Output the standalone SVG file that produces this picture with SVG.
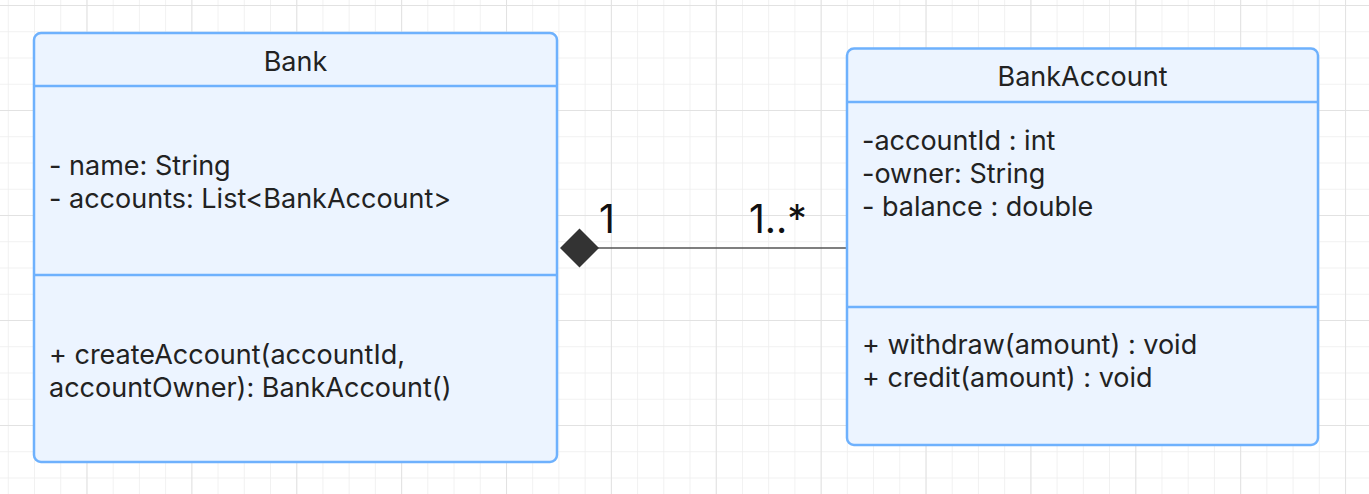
<svg xmlns="http://www.w3.org/2000/svg" width="1369" height="494" viewBox="0 0 1369 494">
  <defs>
    <pattern id="gridThin" x="7.8" y="5" width="26.22" height="26.25" patternUnits="userSpaceOnUse">
      <path d="M0 0 V26.25 M0 0 H26.22" fill="none" stroke="#ededed" stroke-width="1.5"/>
    </pattern>
    <pattern id="gridThick" x="86.5" y="5" width="104.88" height="105" patternUnits="userSpaceOnUse">
      <path d="M0 0 V105 M0 0 H104.88" fill="none" stroke="#e2e2e2" stroke-width="2"/>
    </pattern>
  </defs>
  <style>
    .box { fill: #ecf4ff; stroke: #6eb1fd; stroke-width: 2.5; }
    .div { stroke: #6eb1fd; stroke-width: 2.5; }
    .t { font-family: Inter, "Liberation Sans", sans-serif; font-size: 27px; fill: #222222; }
    .mult { font-family: Inter, "Liberation Sans", sans-serif; font-size: 39px; fill: #111111; }
    .conn { stroke: #555555; stroke-width: 1.6; fill: none; }
  </style>
  <rect width="1369" height="494" fill="#ffffff"/>
  <rect width="1369" height="494" fill="url(#gridThin)"/>
  <rect width="1369" height="494" fill="url(#gridThick)"/>

  <g id="connectors">
    <line class="conn" x1="598" y1="248" x2="847" y2="248"/>
    <polygon points="560,248 579.5,228.5 599,248 579.5,267.5" fill="#333333"/>
    <text class="mult" x="599" y="232.5">1</text>
    <text class="mult" x="749" y="232.5">1..*</text>
  </g>

  <g id="bank">
    <rect class="box" x="34" y="33" width="523" height="429" rx="7"/>
    <line class="div" x1="34" y1="86" x2="557" y2="86"/>
    <line class="div" x1="34" y1="275" x2="557" y2="275"/>
    <text class="t" x="295.5" y="71" text-anchor="middle">Bank</text>
    <text class="t" x="49" y="175">- name: String</text>
    <text class="t" x="49" y="208">- accounts: List&lt;BankAccount&gt;</text>
    <text class="t" x="49" y="364">+ createAccount(accountId,</text>
    <text class="t" x="49" y="397">accountOwner): BankAccount()</text>
  </g>

  <g id="bankaccount">
    <rect class="box" x="847" y="48.5" width="471" height="396.5" rx="7"/>
    <line class="div" x1="847" y1="102" x2="1318" y2="102"/>
    <line class="div" x1="847" y1="307" x2="1318" y2="307"/>
    <text class="t" x="1082.5" y="86" text-anchor="middle">BankAccount</text>
    <text class="t" x="862" y="150">-accountId : int</text>
    <text class="t" x="862" y="183">-owner: String</text>
    <text class="t" x="862" y="216">- balance : double</text>
    <text class="t" x="862" y="354">+ withdraw(amount) : void</text>
    <text class="t" x="862" y="387">+ credit(amount) : void</text>
  </g>
</svg>
